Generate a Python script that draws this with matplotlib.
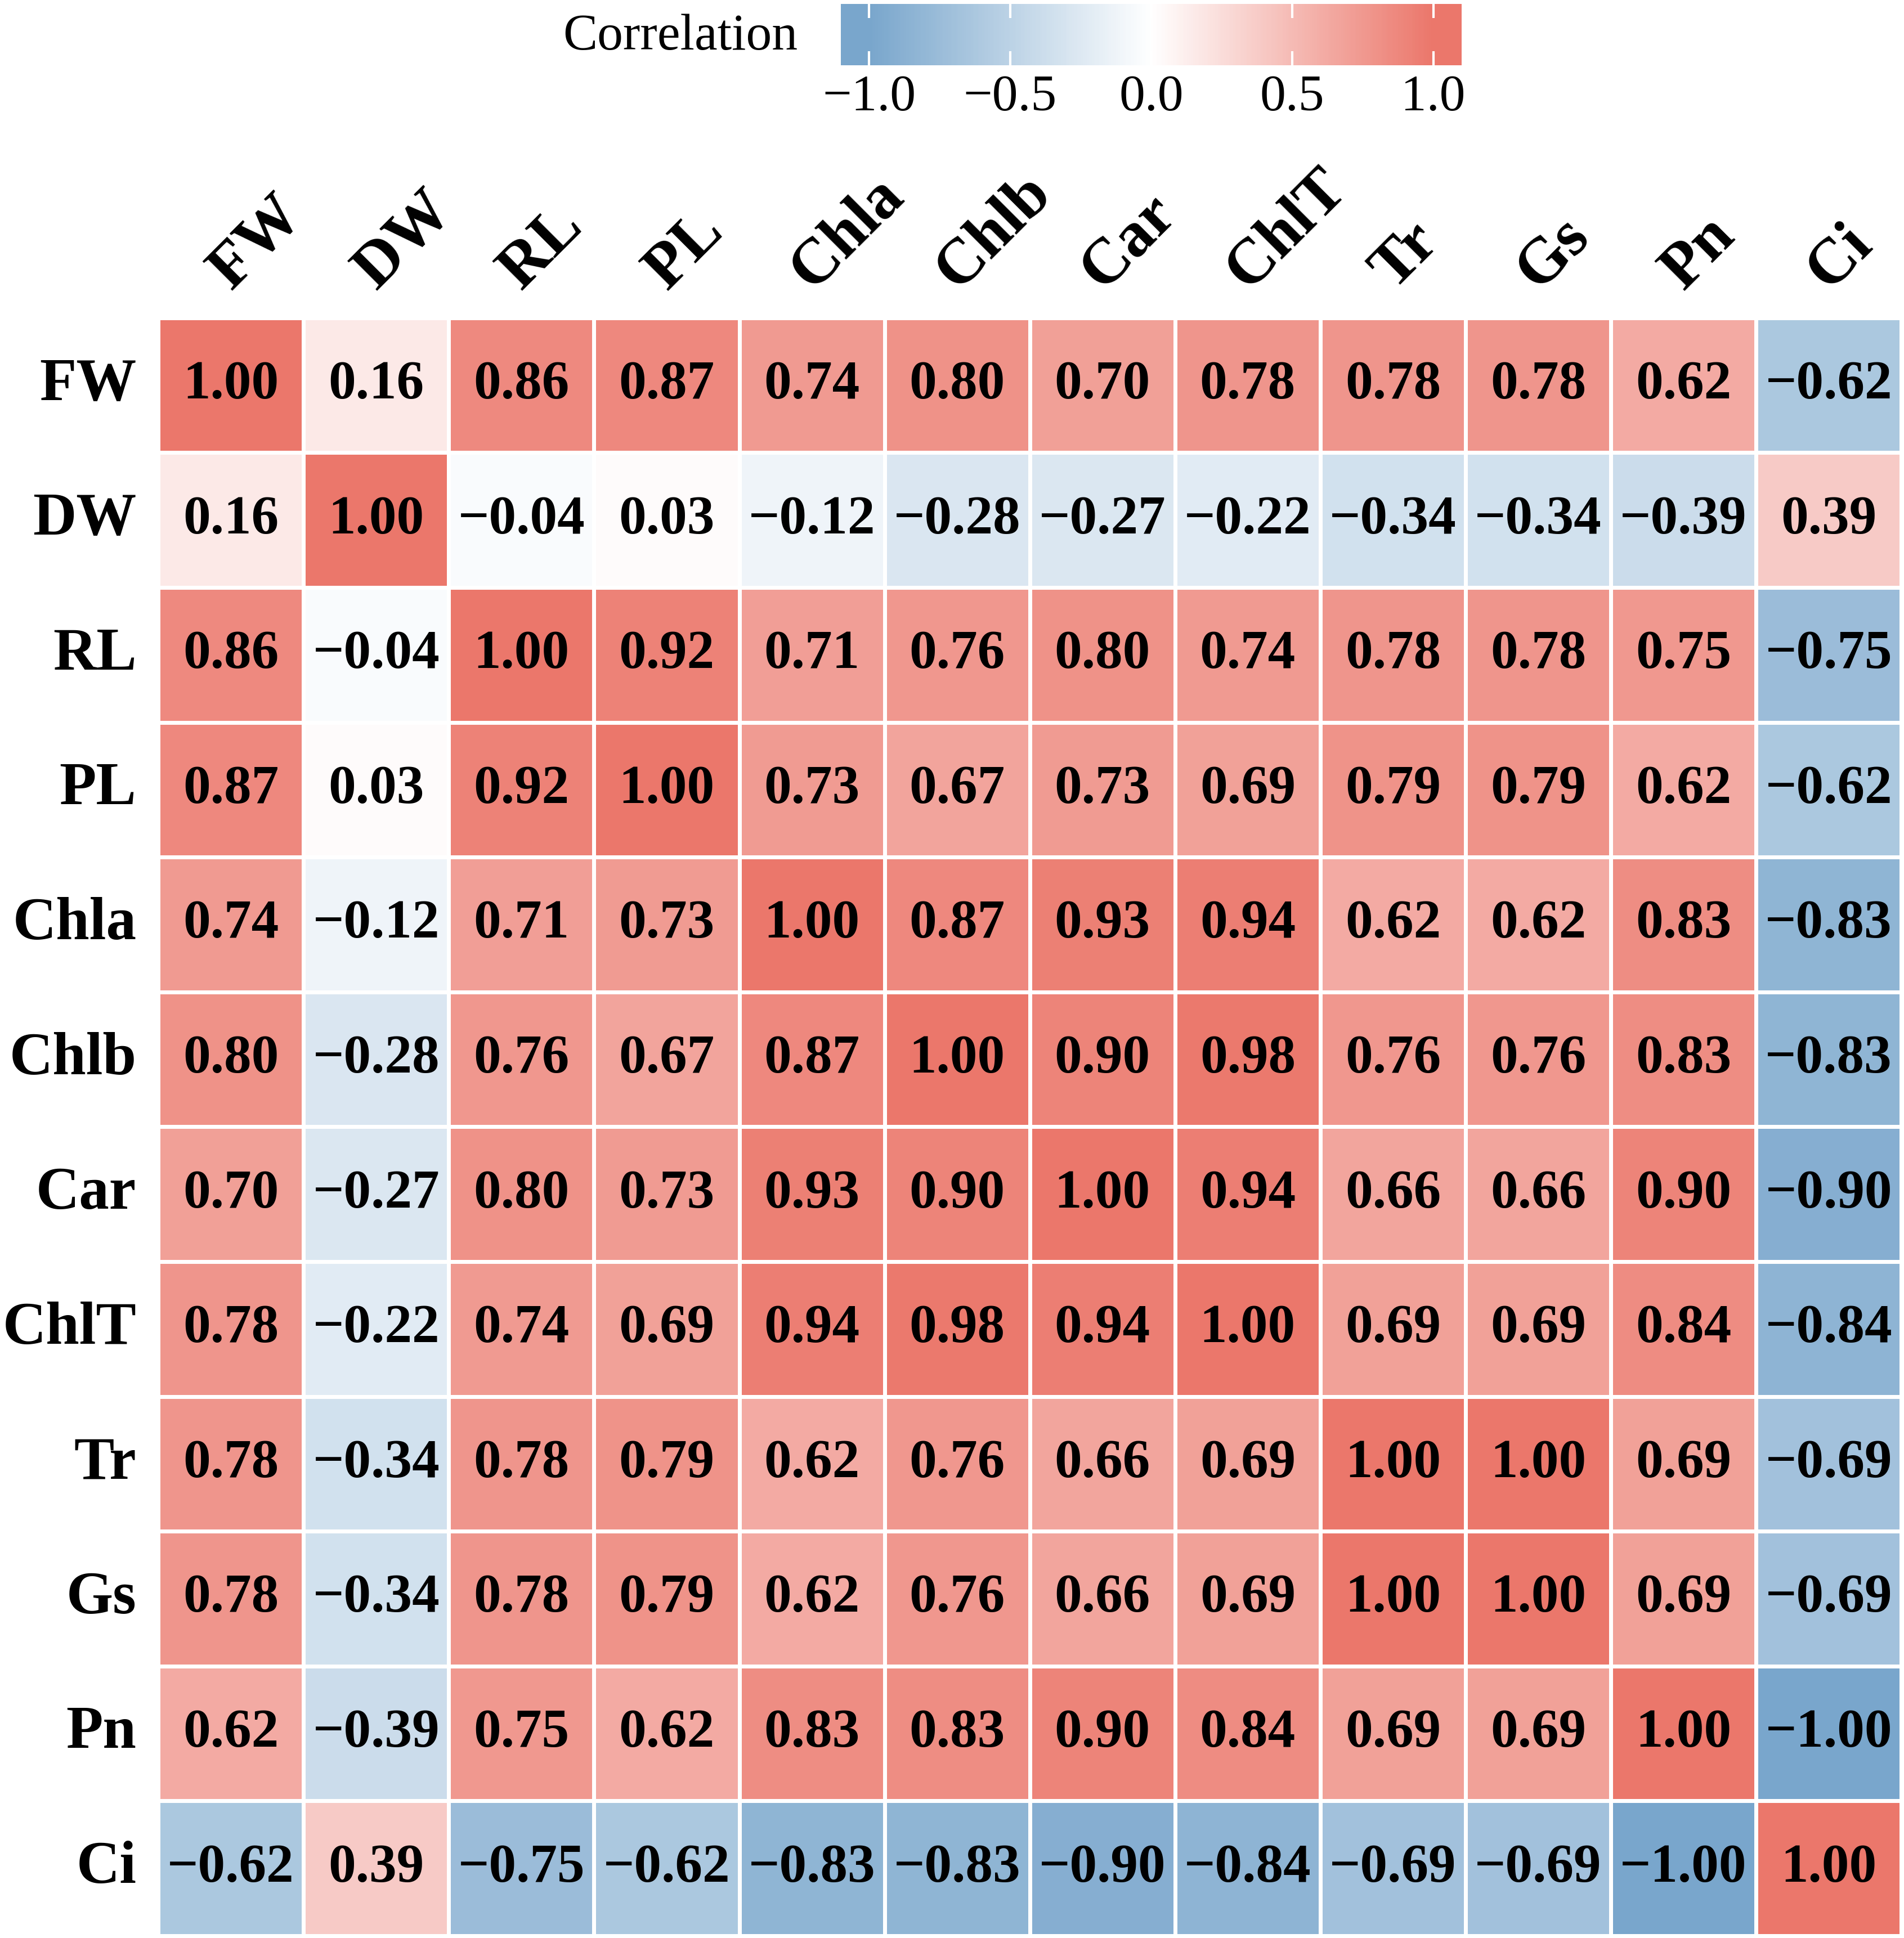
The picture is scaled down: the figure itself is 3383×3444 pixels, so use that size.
import numpy as np
import matplotlib
matplotlib.use('Agg')
import matplotlib.pyplot as plt
from matplotlib.colors import LinearSegmentedColormap, Normalize

plt.rcParams['font.family'] = ['Liberation Serif', 'DejaVu Serif']

# variables (rows and columns share the same order)
labels = ['FW', 'DW', 'RL', 'PL', 'Chla', 'Chlb', 'Car', 'ChlT', 'Tr', 'Gs', 'Pn', 'Ci']

r_FW   = [1.00, 0.16, 0.86, 0.87, 0.74, 0.80, 0.70, 0.78, 0.78, 0.78, 0.62, -0.62]
r_DW   = [0.16, 1.00, -0.04, 0.03, -0.12, -0.28, -0.27, -0.22, -0.34, -0.34, -0.39, 0.39]
r_RL   = [0.86, -0.04, 1.00, 0.92, 0.71, 0.76, 0.80, 0.74, 0.78, 0.78, 0.75, -0.75]
r_PL   = [0.87, 0.03, 0.92, 1.00, 0.73, 0.67, 0.73, 0.69, 0.79, 0.79, 0.62, -0.62]
r_Chla = [0.74, -0.12, 0.71, 0.73, 1.00, 0.87, 0.93, 0.94, 0.62, 0.62, 0.83, -0.83]
r_Chlb = [0.80, -0.28, 0.76, 0.67, 0.87, 1.00, 0.90, 0.98, 0.76, 0.76, 0.83, -0.83]
r_Car  = [0.70, -0.27, 0.80, 0.73, 0.93, 0.90, 1.00, 0.94, 0.66, 0.66, 0.90, -0.90]
r_ChlT = [0.78, -0.22, 0.74, 0.69, 0.94, 0.98, 0.94, 1.00, 0.69, 0.69, 0.84, -0.84]
r_Tr   = [0.78, -0.34, 0.78, 0.79, 0.62, 0.76, 0.66, 0.69, 1.00, 1.00, 0.69, -0.69]
r_Gs   = [0.78, -0.34, 0.78, 0.79, 0.62, 0.76, 0.66, 0.69, 1.00, 1.00, 0.69, -0.69]
r_Pn   = [0.62, -0.39, 0.75, 0.62, 0.83, 0.83, 0.90, 0.84, 0.69, 0.69, 1.00, -1.00]
r_Ci   = [-0.62, 0.39, -0.75, -0.62, -0.83, -0.83, -0.90, -0.84, -0.69, -0.69, -1.00, 1.00]

cbar_ticks = [-1.0, -0.5, 0.0, 0.5, 1.0]

corr = np.array([r_FW, r_DW, r_RL, r_PL, r_Chla, r_Chlb, r_Car, r_ChlT,
                 r_Tr, r_Gs, r_Pn, r_Ci])
n = len(labels)

cmap = LinearSegmentedColormap.from_list('corr', ['#79A6CC', '#FFFFFF', '#EB776B'])
norm = Normalize(vmin=-1, vmax=1)

fig = plt.figure(figsize=(33.83, 34.44), dpi=100)

# main heatmap
ax = fig.add_axes([0.0831, 0.0012, 0.9155, 0.8348])
ax.pcolormesh(np.arange(n + 1), np.arange(n + 1), corr, cmap=cmap, norm=norm,
              edgecolor='white', linewidth=5)
ax.set_xlim(0, n)
ax.set_ylim(n, 0)
ax.axis('off')

for i in range(n):
    for j in range(n):
        ax.text(j + 0.5, i + 0.5, f'{corr[i, j]:.2f}'.replace('-', '\u2212'),
                ha='center', va='center', fontsize=70, fontweight='bold')

# row labels
for i, lab in enumerate(labels):
    ax.text(-0.15, i + 0.5, lab, ha='right', va='center', fontsize=77,
            fontweight='bold')

# column labels, rotated
for j, lab in enumerate(labels):
    ax.text(j + 0.5, -0.2, lab, ha='left', va='baseline', rotation=45,
            rotation_mode='anchor', fontsize=82, fontweight='bold')

# colour bar on top
cax = fig.add_axes([0.4416, 0.9663, 0.326, 0.0317])
grad = np.linspace(-1.1, 1.1, 401)
mid = (grad[:-1] + grad[1:]) / 2
cax.pcolormesh(grad, [0, 1], mid[np.newaxis, :], cmap=cmap, norm=norm)
cax.set_xlim(-1.1, 1.1)
cax.set_ylim(0, 1)
for s in cax.spines.values():
    s.set_visible(False)
cax.set_yticks([])
cax.set_xticks(cbar_ticks)
cax.set_xticklabels([f'{t:.1f}'.replace('-', '\u2212') for t in cbar_ticks],
                    fontsize=66)
cax.tick_params(axis='x', direction='in', length=18, width=3, color='white',
                top=True, bottom=True, pad=12)
fig.text(0.419, 0.981, 'Correlation', ha='right', va='center', fontsize=66)

fig.savefig('out.png', dpi=100)
